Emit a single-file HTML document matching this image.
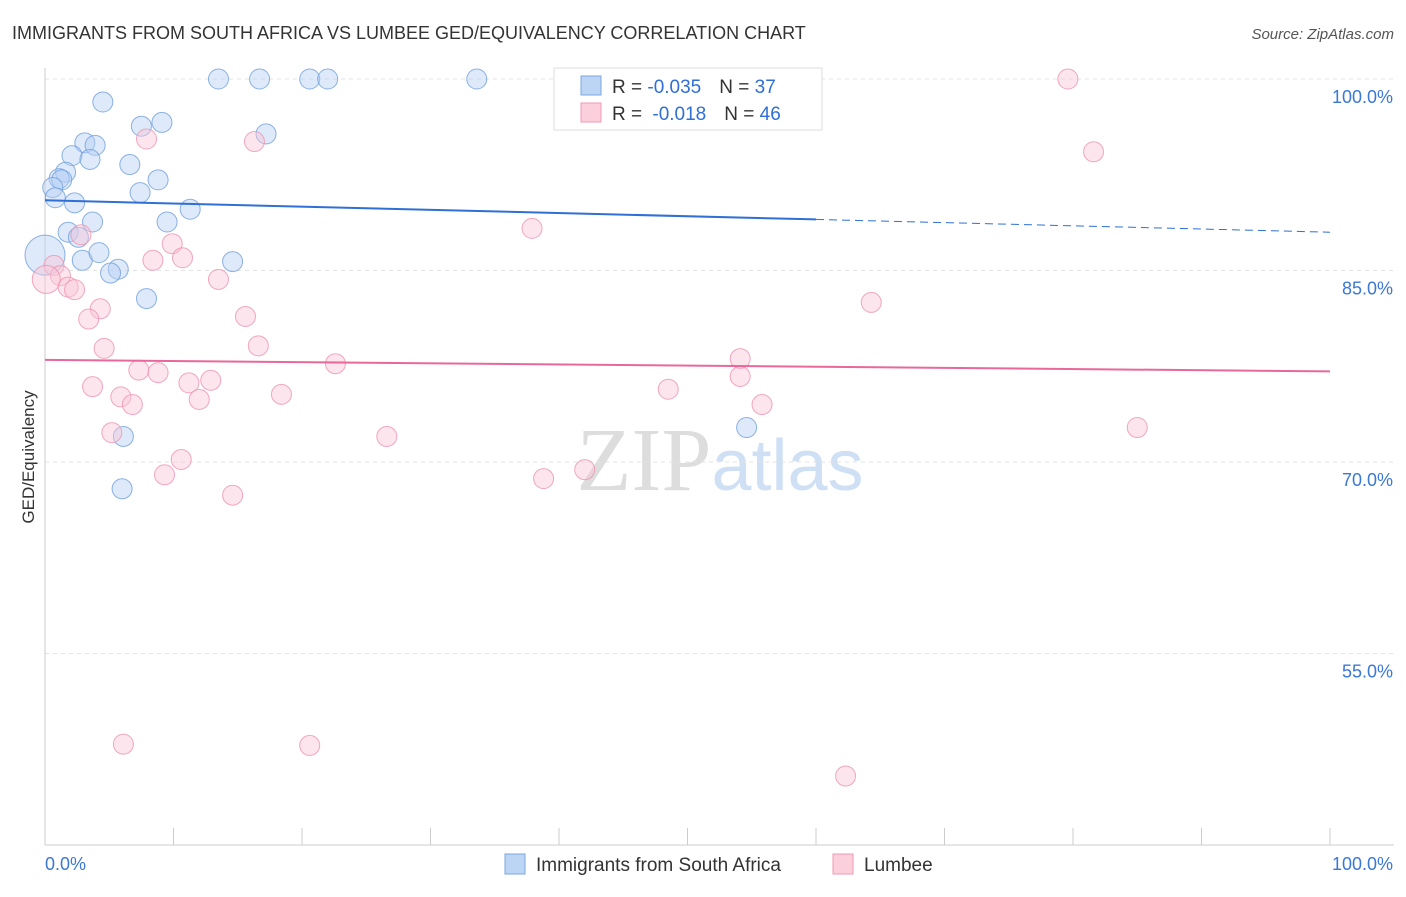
<!DOCTYPE html>
<html><head><meta charset="utf-8"><style>
body{margin:0;background:#fff;font-family:"Liberation Sans",sans-serif;}
</style></head><body>
<svg id="chart" width="1406" height="892" xmlns="http://www.w3.org/2000/svg" font-family="Liberation Sans, sans-serif">
<text x="12" y="39" font-size="18" fill="#333">IMMIGRANTS FROM SOUTH AFRICA VS LUMBEE GED/EQUIVALENCY CORRELATION CHART</text>
<text x="1394" y="39" font-size="15" fill="#555" text-anchor="end" font-style="italic">Source: ZipAtlas.com</text>
<text x="720" y="490" font-size="90" text-anchor="middle"><tspan fill="#ddd" font-family="Liberation Serif, serif">ZIP</tspan><tspan fill="#cfe0f5" font-size="72">atlas</tspan></text>
<g id="grid"></g><g id="axes"></g><g id="marks"></g>
<text transform="translate(34,457) rotate(-90)" font-size="17" fill="#333" text-anchor="middle">GED/Equivalency</text>
<g>
<rect x="554" y="68" width="268" height="62" fill="#fff" stroke="#ddd"/>
<rect x="581" y="76" width="20" height="19" fill="#bcd5f5" stroke="#7aa7e0"/>
<rect x="581" y="103" width="20" height="19" fill="#fbcfdc" stroke="#f09ab4"/>
<text x="612" y="93" font-size="19" fill="#333">R = <tspan fill="#2f6fd6">-0.035</tspan><tspan dx="18">N = </tspan><tspan fill="#2f6fd6">37</tspan></text>
<text x="612" y="120" font-size="19" fill="#333">R = <tspan dx="5" fill="#2f6fd6">-0.018</tspan><tspan dx="18">N = </tspan><tspan fill="#2f6fd6">46</tspan></text>
</g>
<g>
<rect x="505" y="854" width="20" height="20" fill="#bcd5f5" stroke="#7aa7e0"/>
<text x="536" y="871" font-size="19" fill="#333">Immigrants from South Africa</text>
<rect x="833" y="854" width="20" height="20" fill="#fbcfdc" stroke="#f09ab4"/>
<text x="864" y="871" font-size="19" fill="#333">Lumbee</text>
</g>
</svg>
<script>
const yTicks=[100,85,70,55];
const yTickLabels=["100.0%","85.0%","70.0%","55.0%"];
const blueX=[13.5,16.7,20.6,22.0,33.6,4.5,7.5,9.1,17.2,3.1,3.9,2.1,3.5,6.6,1.6,1.1,1.3,8.8,0.6,7.4,0.8,2.3,11.3,3.7,9.5,1.8,2.6,0,2.9,4.2,14.6,5.7,5.1,7.9,54.6,6.1,6.0];
const blueY=[100,100,100,100,100,98.2,96.3,96.6,95.7,95.0,94.8,94.0,93.7,93.3,92.7,92.2,92.1,92.1,91.5,91.1,90.7,90.3,89.8,88.8,88.8,88.0,87.6,86.2,85.8,86.4,85.7,85.1,84.8,82.8,72.7,72.0,67.9];
const pinkX=[79.6,81.6,7.9,16.3,37.9,2.8,9.9,8.4,10.7,0.7,1.2,0.1,1.8,2.3,13.5,4.3,3.4,64.3,15.6,4.6,16.6,54.1,22.6,7.3,8.8,54.1,3.7,11.2,12.9,48.5,18.4,5.9,6.8,12.0,55.8,85.0,5.2,26.6,10.6,9.3,42.0,38.8,14.6,6.1,20.6,62.3];
const pinkY=[100,94.3,95.3,95.1,88.3,87.8,87.1,85.8,86.0,85.4,84.6,84.3,83.7,83.5,84.3,82.0,81.2,82.5,81.4,78.9,79.1,78.1,77.7,77.2,77.0,76.7,75.9,76.2,76.4,75.7,75.3,75.1,74.5,74.9,74.5,72.7,72.3,72.0,70.2,69.0,69.4,68.7,67.4,47.9,47.8,45.4];
const blueTrend=[90.5,88.0];
const pinkTrend=[78.0,77.1];
const NS="http://www.w3.org/2000/svg";
const X=v=>45+v/100*1285, Y=v=>79+(100-v)/15*191.5;
function mk(tag,at,parent){const e=document.createElementNS(NS,tag);for(const k in at)e.setAttribute(k,at[k]);document.getElementById(parent).appendChild(e);return e;}
yTicks.forEach((t,i)=>{
 const l=mk('line',{x1:45,x2:1394,y1:Y(t),y2:Y(t),stroke:'#e3e3e3','stroke-dasharray':'4,4'},'grid');
 
 
 const tx=mk('text',{x:1393,y:Y(t)+24,'font-size':18,fill:'#3a78d4','text-anchor':'end'},'axes');
 tx.textContent=yTickLabels[i];
 
 
});
let a=mk('line',{x1:45,x2:45,y1:68,y2:845,stroke:'#ccc'},'axes');


a=mk('line',{x1:45,x2:1394,y1:845,y2:845,stroke:'#ccc'},'axes');


for(let i=0;i<=10;i++){const t=mk('line',{x1:X(i*10),x2:X(i*10),y1:828,y2:845,stroke:'#ccc'},'axes');
 
 }
[["0.0%",45,"start"],["100.0%",1393,"end"]].forEach(d=>{const t=mk('text',{x:d[1],y:870,'font-size':18,fill:'#3a78d4','text-anchor':d[2]},'axes');t.textContent=d[0];
 
 });
function pts(xs,ys,fill,stroke,name,bigR){xs.forEach((x,i)=>{const r=(x<0.2)?bigR:10;
 const c=mk('circle',{cx:X(x),cy:Y(ys[i]),r:r,fill:fill,'fill-opacity':0.45,stroke:stroke,'stroke-opacity':0.8,'stroke-width':1},'marks');
 
 });}
pts(blueX,blueY,'#b6d0f3','#6f9fdf','south-africa-point',20);
pts(pinkX,pinkY,'#f9c6d6','#ee92b0','lumbee-point',14);
const by=v=>blueTrend[0]+(blueTrend[1]-blueTrend[0])*v/100;
let t=mk('line',{x1:X(0),y1:Y(by(0)),x2:X(60),y2:Y(by(60)),stroke:'#2f6fd6','stroke-width':2},'marks');


t=mk('line',{x1:X(60),y1:Y(by(60)),x2:X(100),y2:Y(by(100)),stroke:'#2f6fd6','stroke-width':1,'stroke-dasharray':'8,5'},'marks');


t=mk('line',{x1:X(0),y1:Y(pinkTrend[0]),x2:X(100),y2:Y(pinkTrend[1]),stroke:'#e8689a','stroke-width':2},'marks');


</script>
</body></html>
